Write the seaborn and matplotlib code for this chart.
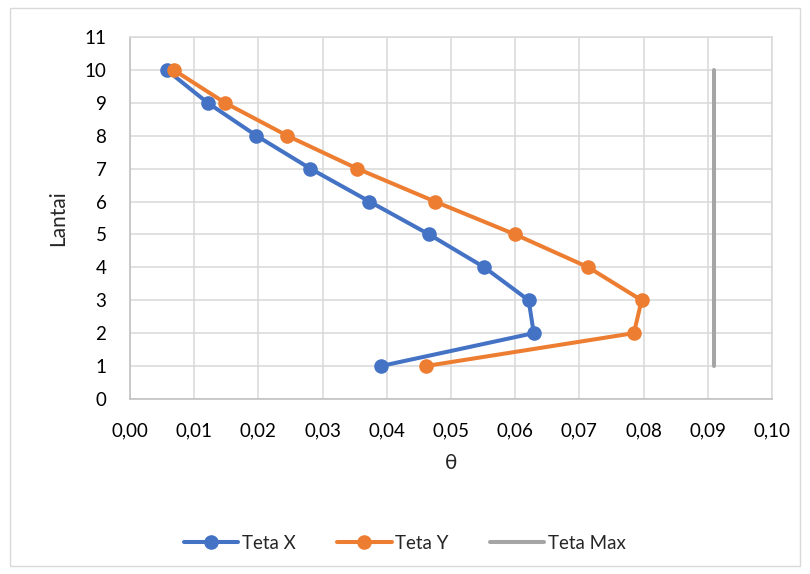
import matplotlib
matplotlib.use("Agg")
import matplotlib.pyplot as plt
import seaborn as sns
import pandas as pd
from matplotlib.ticker import FuncFormatter
from matplotlib.patches import Rectangle

lantai = [1, 2, 3, 4, 5, 6, 7, 8, 9, 10]
teta_x = [0.0391, 0.0629, 0.0621, 0.0552, 0.0466, 0.0373, 0.0281, 0.0197, 0.0121, 0.0057]
teta_y = [0.0461, 0.0785, 0.0797, 0.0714, 0.0600, 0.0475, 0.0354, 0.0245, 0.0148, 0.0068]
teta_max = [0.0909] * 10

x_ticks = [0.00, 0.01, 0.02, 0.03, 0.04, 0.05, 0.06, 0.07, 0.08, 0.09, 0.10]
y_ticks = list(range(0, 12))

sns.set_theme(style="white")
plt.rcParams['font.family'] = ['Lato', 'DejaVu Sans']

fig = plt.figure(figsize=(8.10, 5.74), dpi=100)
ax = fig.add_axes([0.1605, 0.305, 0.7925, 0.6305])

df_x = pd.DataFrame({"theta": teta_x, "lantai": lantai})
df_y = pd.DataFrame({"theta": teta_y, "lantai": lantai})
df_m = pd.DataFrame({"theta": teta_max, "lantai": lantai})

blue, orange, gray = "#4472C4", "#ED7D31", "#A5A5A5"

sns.lineplot(data=df_x, x="theta", y="lantai", sort=False, estimator=None, ax=ax, color=blue,
             lw=2.9, marker="o", markersize=10.5, markeredgewidth=0, label="Teta X", zorder=3)
sns.lineplot(data=df_y, x="theta", y="lantai", sort=False, estimator=None, ax=ax, color=orange,
             lw=2.9, marker="o", markersize=10.5, markeredgewidth=0, label="Teta Y", zorder=3)
sns.lineplot(data=df_m, x="theta", y="lantai", sort=False, estimator=None, ax=ax, color=gray,
             lw=2.9, label="Teta Max", zorder=3)

ax.set_xlim(0, 0.10)
ax.set_ylim(0, 11)
ax.set_xticks(x_ticks)
ax.set_yticks(y_ticks)
ax.xaxis.set_major_formatter(FuncFormatter(lambda v, p: f"{v:.2f}".replace(".", ",")))
ax.grid(True, color="#D9D9D9", lw=1.1)
for s in ax.spines.values():
    s.set_color("#D9D9D9")
    s.set_linewidth(1.1)
ax.spines["left"].set_color("#BFBFBF")
ax.spines["bottom"].set_color("#BFBFBF")
ax.tick_params(axis="both", length=0, labelsize=13.5, colors="#000000")
ax.tick_params(axis="x", pad=17)
ax.tick_params(axis="y", pad=17)
ax.set_xlabel("θ", fontsize=15, labelpad=10)
ax.set_ylabel("Lantai", fontsize=15, labelpad=12)

ax.legend(loc="upper center", bbox_to_anchor=(0.5, 0.098), bbox_transform=fig.transFigure,
          ncol=3, frameon=False, fontsize=13.5, handlelength=2.9, columnspacing=2.2,
          handletextpad=0.2)

fig.patches.append(Rectangle((10 / 810, 8 / 574), 790 / 810, 558 / 574, transform=fig.transFigure,
                             fill=False, edgecolor="#D9D9D9", lw=1.0))

fig.savefig("out.png", dpi=100, facecolor="white")
